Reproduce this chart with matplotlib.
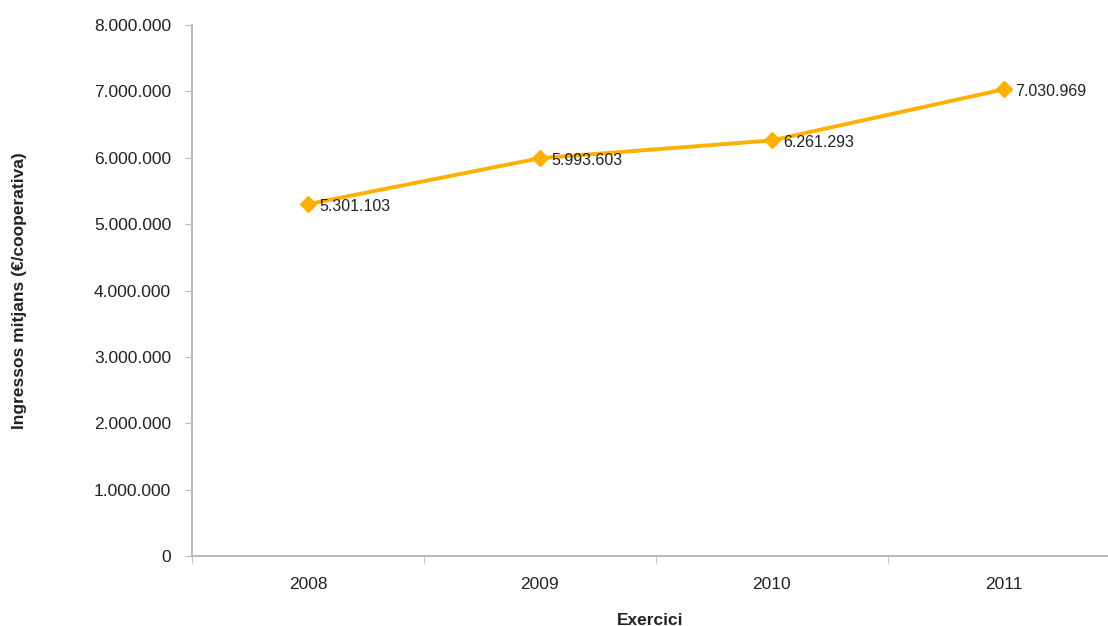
import matplotlib.pyplot as plt
from matplotlib.ticker import FuncFormatter

plt.rcParams['font.family'] = ['Liberation Sans', 'DejaVu Sans']

years = ['2008', '2009', '2010', '2011']
income = [5301103, 5993603, 6261293, 7030969]

def fmt(v, pos=None):
    return f"{int(v):,}".replace(',', '.')

fig = plt.figure(figsize=(11.08, 6.26), dpi=100)
ax = fig.add_axes([0.1733, 0.1118, 0.8267, 0.8482])

x = range(len(years))
ax.plot(x, income, color='#FFB000', lw=2.8, marker='D', ms=8.5, zorder=3)
for xi, v in zip(x, income):
    ax.annotate(fmt(v), (xi, v), xytext=(8, -1.5), textcoords='offset points',
                ha='left', va='center', fontsize=11.5, color='#222222')

ax.set_ylim(0, 8000000)
ax.set_yticks(range(0, 8000001, 1000000))
ax.yaxis.set_major_formatter(FuncFormatter(fmt))
ax.set_xlim(-0.5, 3.45)
ax.set_xticks(list(x))
ax.set_xticklabels(years)
ax.set_xticks([-0.5, 0.5, 1.5, 2.5], minor=True)
ax.tick_params(axis='x', which='major', length=0, pad=15, labelsize=12.5, colors='#222222')
ax.tick_params(axis='x', which='minor', length=5, color='#bbbbbb')
ax.tick_params(axis='y', length=5, color='#bbbbbb', labelsize=12.5, labelcolor='#222222', pad=10)

for s in ['top', 'right']:
    ax.spines[s].set_visible(False)
for s in ['left', 'bottom']:
    ax.spines[s].set_color('#bbbbbb')
    ax.spines[s].set_linewidth(1.5)

ax.set_xlabel('Exercici', fontsize=12.5, fontweight='bold', labelpad=15, color='#222222')
ax.set_ylabel('Ingressos mitjans (€/cooperativa)', fontsize=12.5, fontweight='bold',
              labelpad=48, color='#222222')

fig.savefig('out.png', dpi=100)
